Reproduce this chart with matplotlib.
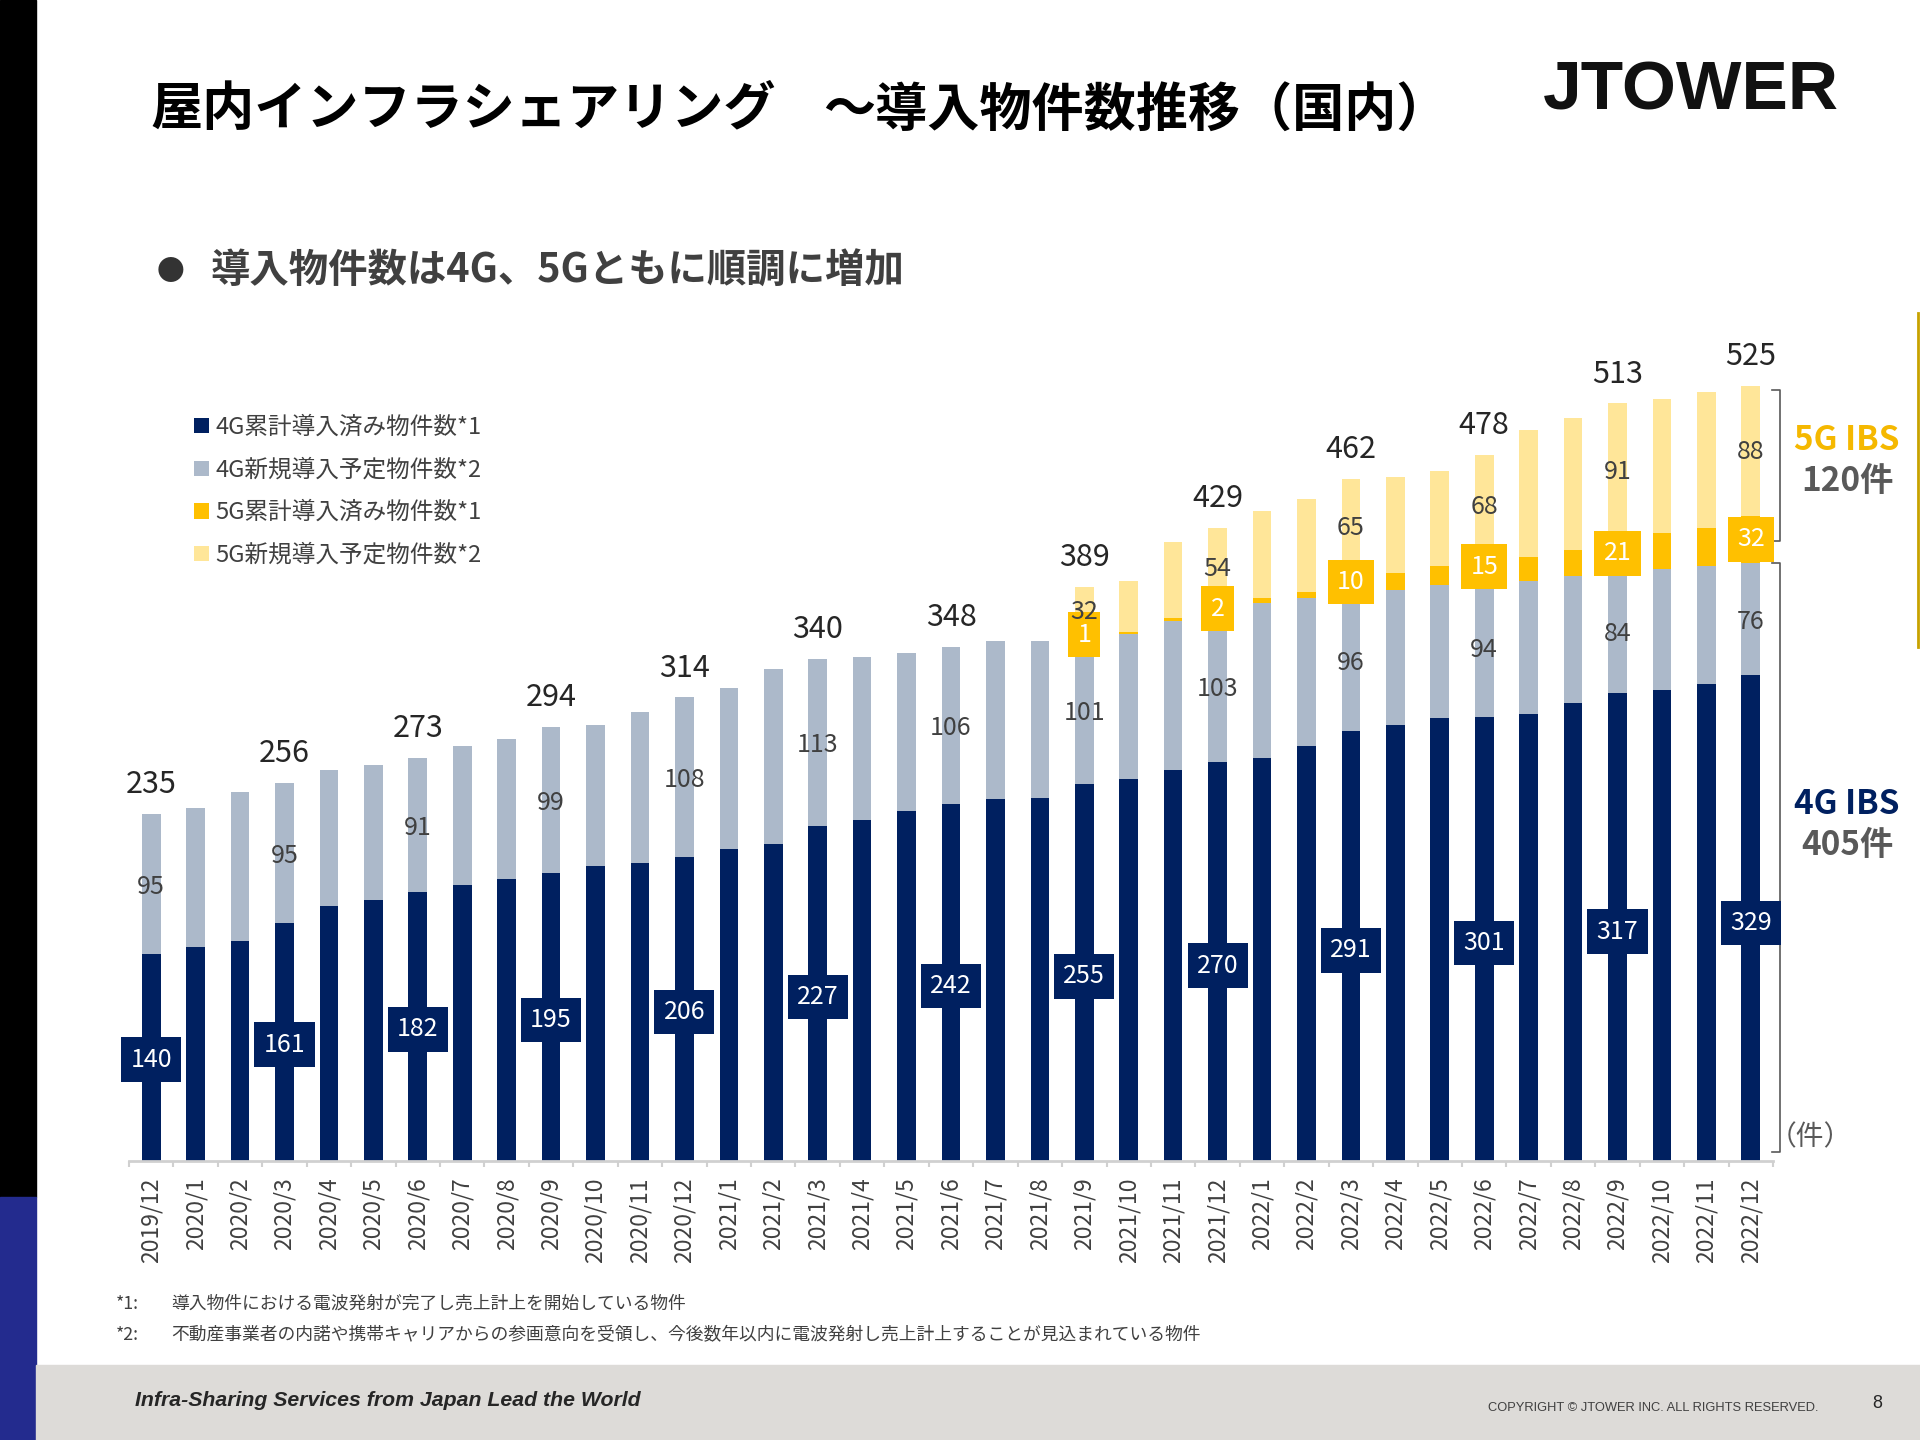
import matplotlib
matplotlib.use("Agg")
import matplotlib.pyplot as plt
from matplotlib.patches import Rectangle
from matplotlib.lines import Line2D
import numpy as np

plt.rcParams['font.family'] = ['Noto Sans CJK JP', 'DejaVu Sans']

# data
months = ["2019/12"] + ["2020/%d" % m for m in range(1, 13)] + \
         ["2021/%d" % m for m in range(1, 13)] + ["2022/%d" % m for m in range(1, 13)]

g4_done = [140, 145, 149, 161, 173, 177, 182, 187, 191, 195, 200, 202, 206,
           211, 215, 227, 231, 237, 242, 245, 246, 255, 259, 265, 270,
           273, 281, 291, 295, 300, 301, 303, 310, 317, 319, 323, 329]
g4_new = [95, 94, 101, 95, 92, 91, 91, 94, 95, 99, 95, 102, 108,
          109, 118, 113, 110, 107, 106, 107, 106, 101, 98, 101, 103,
          105, 100, 96, 92, 90, 94, 90, 86, 84, 82, 80, 76]
g5_done = [0] * 21 + [1, 1, 2, 2, 3, 4, 10, 11, 13, 15, 16, 18, 21, 24, 26, 32]
g5_new = [0] * 21 + [32, 35, 51, 54, 59, 63, 65, 65, 64, 68, 86, 89, 91, 91, 92, 88]

labels = ["4G累計導入済み物件数*1", "4G新規導入予定物件数*2",
          "5G累計導入済み物件数*1", "5G新規導入予定物件数*2"]
colors = ["#002060", "#ACB9CA", "#FFC000", "#FFE699"]

g4_done = np.array(g4_done)
g4_new = np.array(g4_new)
g5_done = np.array(g5_done)
g5_new = np.array(g5_new)
total = g4_done + g4_new + g5_done + g5_new
x = np.arange(len(months))
shown = list(range(0, len(months), 3))

fig = plt.figure(figsize=(19.2, 14.4), dpi=100)
W, H = 1920, 1440

# page decoration
fig.patches.append(Rectangle((0, 1 - 1197 / H), 36 / W, 1197 / H, transform=fig.transFigure,
                             color="black", zorder=0))
fig.patches.append(Rectangle((0, 0), 36 / W, 1 - 1197 / H, transform=fig.transFigure,
                             color="#232B8E", zorder=0))
fig.patches.append(Rectangle((36 / W, 0), 1 - 36 / W, 75 / H, transform=fig.transFigure,
                             color="#DDDBD8", zorder=0))
fig.lines.append(Line2D([1918 / W, 1918 / W], [1 - 313 / H, 1 - 647 / H],
                        transform=fig.transFigure, color="#C8A200", lw=2))

# titles
fig.text(150 / W, 1 - 110 / H, "屋内インフラシェアリング", fontsize=37.5, fontweight="bold",
         va="center", color="black")
fig.text(823 / W, 1 - 110 / H, "～導入物件数推移（国内）", fontsize=37.5, fontweight="bold",
         va="center", color="black")
fig.text(1839 / W, 1 - 91 / H, "JTOWER", fontsize=50, fontweight="bold",
         family="Liberation Sans", ha="right", va="center", color="#111111")
fig.text(170 / W, 1 - 272 / H, "●", fontsize=20, ha="center", va="center", color="#333333")
fig.text(211 / W, 1 - 271 / H, "導入物件数は4G、5Gともに順調に増加", fontsize=28.4,
         fontweight="bold", va="center", color="#404040")

# chart
ax = fig.add_axes([129 / W, (H - 1161) / H, (1773 - 129) / W, 886 / H])
bw = 0.42
b1 = ax.bar(x, g4_done, bw, color=colors[0], label=labels[0])
b2 = ax.bar(x, g4_new, bw, bottom=g4_done, color=colors[1], label=labels[1])
b3 = ax.bar(x, g5_done, bw, bottom=g4_done + g4_new, color=colors[2], label=labels[2])
b4 = ax.bar(x, g5_new, bw, bottom=g4_done + g4_new + g5_done, color=colors[3], label=labels[3])

ax.set_xlim(-0.5, len(months) - 0.5)
ax.set_ylim(0, 600)
for s in ["top", "right", "left"]:
    ax.spines[s].set_visible(False)
ax.spines["bottom"].set_color("#D0D0D0")
ax.spines["bottom"].set_linewidth(2)
ax.set_yticks([])
ax.set_xticks(x)
ax.set_xticklabels(months, rotation=90, fontsize=16.5, color="#404040")
ax.set_xticks(np.arange(-0.5, len(months), 1.0), minor=True)
ax.tick_params(axis="x", which="major", length=0, pad=12)
ax.tick_params(axis="x", which="minor", length=4, width=1.5, color="#D0D0D0")

for i in shown:
    ax.annotate(str(total[i]), (x[i], total[i]), xytext=(0, 21), textcoords="offset points",
                ha="center", va="center", fontsize=22, color="#262626")
    ax.text(x[i], g4_done[i] * 0.49, str(g4_done[i]), ha="center", va="center",
            fontsize=18, color="white",
            bbox=dict(boxstyle="square,pad=0.37", fc=colors[0], ec="none"))
    ax.text(x[i], g4_done[i] + g4_new[i] / 2 - 2, str(g4_new[i]), ha="center", va="center",
            fontsize=18, color="#404040")
    if g5_done[i] > 0:
        base = g4_done[i] + g4_new[i]
        ax.text(x[i], base + g5_done[i] / 2, str(g5_done[i]), ha="center", va="center",
                fontsize=18, color="white",
                bbox=dict(boxstyle="square,pad=0.37", fc=colors[2], ec="none"))
        ax.text(x[i], base + g5_done[i] + g5_new[i] / 2 - 1, str(g5_new[i]), ha="center",
                va="center", fontsize=18, color="#404040")

# brackets on the right
last = len(months) - 1
bx0, bx1 = last + 0.47, last + 0.65
top5 = total[last] - 3
ax.plot([bx0, bx1, bx1, bx0], [top5, top5, 420, 420], color="#595959", lw=1.2, clip_on=False)
ax.plot([bx0, bx1, bx1, bx0], [405, 405, 6, 6], color="#595959", lw=1.2, clip_on=False)

fig.text(1847 / W, 1 - 440 / H, "5G IBS", fontsize=24, fontweight="bold", ha="center",
         va="center", color="#F5B800")
fig.text(1847 / W, 1 - 481 / H, "120件", fontsize=24, fontweight="bold", ha="center",
         va="center", color="#595959")
fig.text(1847 / W, 1 - 805 / H, "4G IBS", fontsize=24, fontweight="bold", ha="center",
         va="center", color="#002060")
fig.text(1847 / W, 1 - 846 / H, "405件", fontsize=24, fontweight="bold", ha="center",
         va="center", color="#595959")
fig.text(1810 / W, 1 - 1137 / H, "（件）", fontsize=20, ha="center", va="center",
         color="#595959")

leg = ax.legend(handles=[b1, b2, b3, b4], loc="upper left",
                bbox_to_anchor=(194 / W, 1 - 416 / H), bbox_transform=fig.transFigure,
                frameon=False, fontsize=17, handlelength=0.62, handleheight=0.62,
                handletextpad=0.3, labelspacing=0.83, borderpad=0, borderaxespad=0,
                labelcolor="#404040")

# footnotes
fig.text(116 / W, 1 - 1304 / H, "*1:", fontsize=12.8, va="center", color="#404040")
fig.text(171 / W, 1 - 1304 / H, "導入物件における電波発射が完了し売上計上を開始している物件",
         fontsize=12.8, va="center", color="#404040")
fig.text(116 / W, 1 - 1335 / H, "*2:", fontsize=12.8, va="center", color="#404040")
fig.text(171 / W, 1 - 1335 / H,
         "不動産事業者の内諾や携帯キャリアからの参画意向を受領し、今後数年以内に電波発射し売上計上することが見込まれている物件",
         fontsize=12.8, va="center", color="#404040")

# footer
fig.text(135 / W, 1 - 1401 / H, "Infra-Sharing Services from Japan Lead the World",
         fontsize=15.3, family="Liberation Sans", style="italic", fontweight="bold",
         va="center", color="#262626")
fig.text(1818 / W, 1 - 1408 / H, "COPYRIGHT © JTOWER INC. ALL RIGHTS RESERVED.",
         fontsize=9.3, family="Liberation Sans", ha="right", va="center", color="#404040")
fig.text(1877 / W, 1 - 1404 / H, "8", fontsize=13, family="Liberation Sans", ha="center",
         va="center", color="#262626")

fig.savefig("out.png", dpi=100)
